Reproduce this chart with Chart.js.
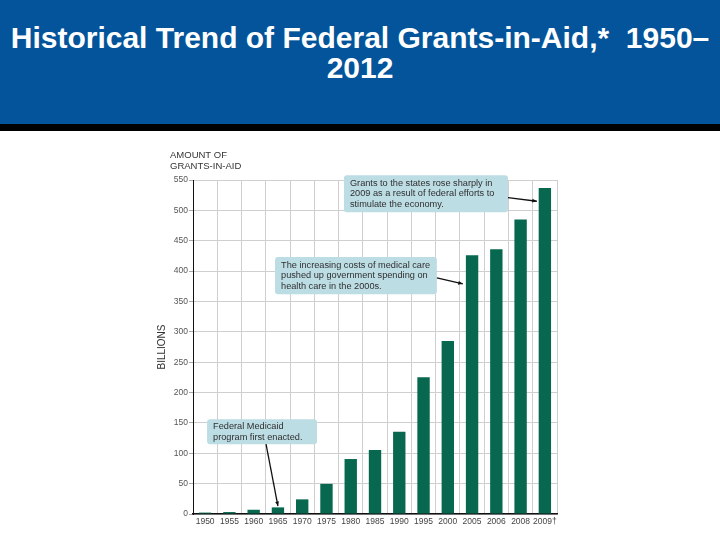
<!DOCTYPE html>
<html>
<head>
<meta charset="utf-8">
<script src="https://cdn.jsdelivr.net/npm/chart.js@4/dist/chart.umd.min.js"></script>
<style>
  html, body { margin: 0; padding: 0; background: #fff; }
  body { width: 720px; height: 540px; position: relative; overflow: hidden; }
  #banner { position: absolute; left: 0; top: 0; width: 720px; height: 124px; background: #03549a; border-bottom: 7px solid #000; }
  #title { position: absolute; left: 0; top: 23px; width: 720px; text-align: center; color: #fff;
    font-family: "Liberation Sans", Arial, sans-serif; font-weight: bold; font-size: 30px; line-height: 30px; white-space: pre; }
  #wrap { position: absolute; left: 0; top: 131px; width: 720px; height: 409px; }
</style>
</head>
<body>
<div id="banner"><div id="title">Historical Trend of Federal Grants-in-Aid,*  1950–
2012</div></div>
<div id="wrap"><canvas id="c"></canvas></div>
<script>
const years = ["1950","1955","1960","1965","1970","1975","1980","1985","1990","1995","2000","2005","2006","2008","2009†"];
const grants = [2.3, 3.2, 7.0, 10.9, 24.1, 49.6, 90.5, 105.5, 135.5, 225, 285, 426, 436, 485, 537];
const yTicks = [0, 50, 100, 150, 200, 250, 300, 350, 400, 450, 500, 550];

const callouts = [
  { lines: ["Grants to the states rose sharply in", "2009 as a result of federal efforts to", "stimulate the economy."],
    box: [5.72, 12.48, 558, 497], arrow: [12.48, 521, 13.67, 515] },
  { lines: ["The increasing costs of medical care", "pushed up government spending on", "health care in the 2000s."],
    box: [2.88, 9.55, 423, 362], arrow: [9.55, 389, 10.62, 379] },
  { lines: ["Federal Medicaid", "program first enacted."],
    box: [0.08, 4.61, 156, 115], arrow: [2.51, 115, 3.0, 13] }
];

const FONT = '"Liberation Sans", Arial, sans-serif';

const annot = {
  id: 'annot',
  afterDraw(chart) {
    const ctx = chart.ctx, xs = chart.scales.x, ys = chart.scales.y;
    const w = xs.getPixelForValue(1) - xs.getPixelForValue(0);
    const px = i => xs.getPixelForValue(0) + i * w;
    const py = v => ys.getPixelForValue(v);
    ctx.save();
    ctx.fillStyle = '#333';
    ctx.font = '9.5px ' + FONT;
    ctx.textBaseline = 'middle';
    ctx.textAlign = 'left';
    const hx = chart.chartArea.left - 23;
    ctx.fillText('AMOUNT OF', hx, chart.chartArea.top - 25);
    ctx.fillText('GRANTS-IN-AID', hx, chart.chartArea.top - 14);
    callouts.forEach(c => {
      const [l, r, t, b] = c.box;
      const x0 = px(l), x1 = px(r), y0 = py(t), y1 = py(b);
      ctx.fillStyle = '#bddde4';
      ctx.beginPath();
      ctx.roundRect(x0, y0, x1 - x0, y1 - y0, 3);
      ctx.fill();
      ctx.fillStyle = '#2f2f2f';
      ctx.font = '9.2px ' + FONT;
      ctx.textBaseline = 'middle';
      const lh = 10.5;
      const startY = (y0 + y1) / 2 - (c.lines.length - 1) * lh / 2;
      c.lines.forEach((s, k) => ctx.fillText(s, x0 + 6, startY + k * lh));
      const [ai, av, bi, bv] = c.arrow;
      const ax = px(ai), ay = py(av), bx = px(bi), by = py(bv);
      ctx.strokeStyle = '#111';
      ctx.fillStyle = '#111';
      ctx.lineWidth = 1.3;
      ctx.beginPath(); ctx.moveTo(ax, ay); ctx.lineTo(bx, by); ctx.stroke();
      const ang = Math.atan2(by - ay, bx - ax), hl = 5;
      ctx.beginPath();
      ctx.moveTo(bx, by);
      ctx.lineTo(bx - hl * Math.cos(ang - 0.4), by - hl * Math.sin(ang - 0.4));
      ctx.lineTo(bx - hl * Math.cos(ang + 0.4), by - hl * Math.sin(ang + 0.4));
      ctx.closePath(); ctx.fill();
    });
    ctx.restore();
  }
};

new Chart(document.getElementById('c'), {
  type: 'bar',
  data: {
    labels: years,
    datasets: [{ data: grants, backgroundColor: '#07684f', borderWidth: 0,
      barPercentage: 0.51, categoryPercentage: 1.0 }]
  },
  options: {
    responsive: true, maintainAspectRatio: false, animation: false,
    layout: { padding: { left: 150, right: 163, top: 49, bottom: 0 } },
    plugins: { legend: { display: false }, tooltip: { enabled: false }, title: { display: false } },
    scales: {
      x: {
        grid: { offset: true, color: '#cfcfcf', lineWidth: 1, drawTicks: false },
        border: { color: '#111', width: 1.5 },
        ticks: { color: '#444', font: { family: FONT, size: 8.5 }, padding: 3, maxRotation: 0, autoSkip: false },
        afterFit: s => { s.height = 26; }
      },
      y: {
        min: 0, max: 550,
        afterBuildTicks: s => { s.ticks = yTicks.map(v => ({ value: v })); },
        grid: { color: '#cfcfcf', lineWidth: 1, tickLength: 4, tickColor: '#aaa' },
        border: { color: '#111', width: 1 },
        ticks: { color: '#555', font: { family: FONT, size: 8.5 }, padding: 1 },
        title: { display: true, text: 'BILLIONS', color: '#333', font: { family: FONT, size: 10 }, padding: { top: 6, bottom: 0 } },
        afterFit: s => { s.width = 43; }
      }
    }
  },
  plugins: [annot]
});
</script>
</body>
</html>
